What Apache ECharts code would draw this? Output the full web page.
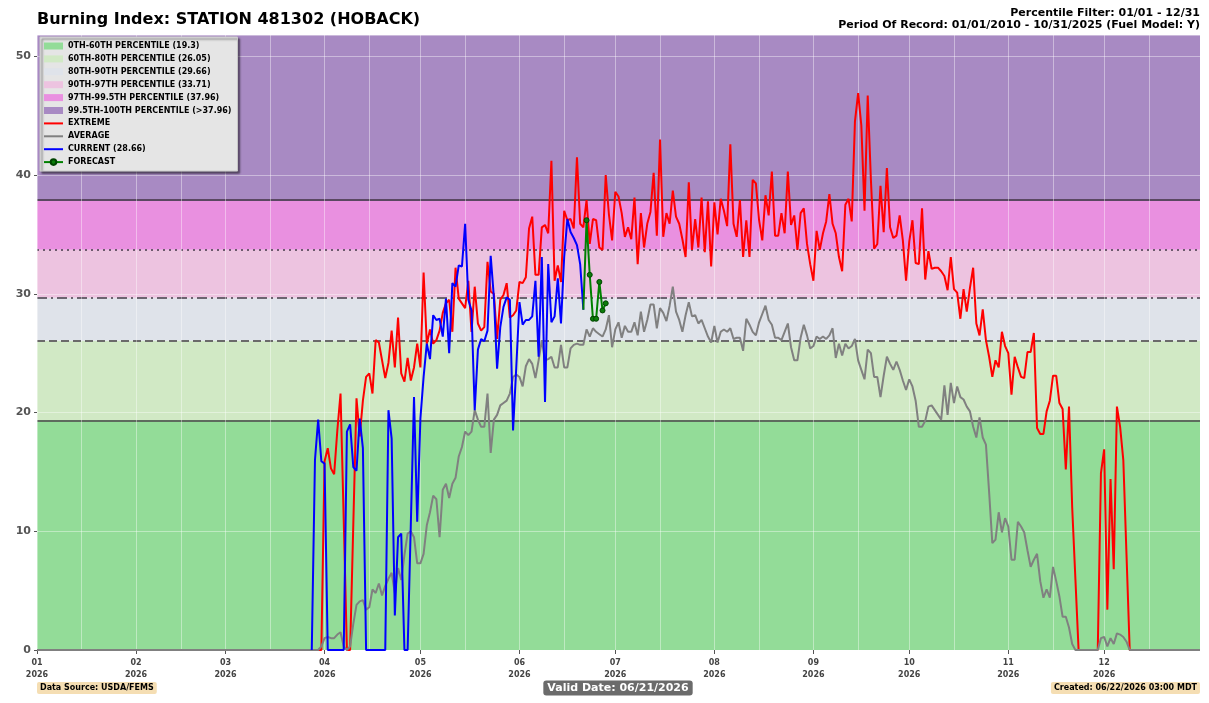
<!DOCTYPE html>
<html><head><meta charset="utf-8">
<script src="https://cdn.jsdelivr.net/npm/echarts@6.0.0/dist/echarts.min.js"></script>
<style>html,body{margin:0;padding:0;background:#fff}#c{width:1209px;height:703px}</style>
</head><body><div id="c"></div>
<script>
const YEAR = 2026;
const titleText = 'Burning Index: STATION 481302 (HOBACK)';
const subtitleLines = ['Percentile Filter: 01/01 - 12/31', 'Period Of Record: 01/01/2010 - 10/31/2025 (Fuel Model: Y)'];
const footerSource = 'Data Source: USDA/FEMS';
const footerValid = 'Valid Date: 06/21/2026';
const footerCreated = 'Created: 06/22/2026 03:00 MDT';

// Percentile bands (upper bounds) and names
const bandBounds = [0, 19.3, 26.05, 29.66, 33.71, 37.96, 51.8];
const bandNames = ['0TH-60TH PERCENTILE (19.3)', '60TH-80TH PERCENTILE (26.05)', '80TH-90TH PERCENTILE (29.66)',
  '90TH-97TH PERCENTILE (33.71)', '97TH-99.5TH PERCENTILE (37.96)', '99.5TH-100TH PERCENTILE (>37.96)'];
const lineNames = ['EXTREME', 'AVERAGE', 'CURRENT (28.66)', 'FORECAST'];

// Daily EXTREME values, Jan 1 .. Dec 31
const extremeValues = [
  0,0,0,0,0,0,0,0,0,0, 0,0,0,0,0,0,0,0,0,0, 0,0,0,0,0,0,0,0,0,0, 0,
  0,0,0,0,0,0,0,0,0,0, 0,0,0,0,0,0,0,0,0,0, 0,0,0,0,0,0,0,0,
  0,0,0,0,0,0,0,0,0,0, 0,0,0,0,0,0,0,0,0,0, 0,0,0,0,0,0,0,0,0,0, 0,
  15.9,17.0,15.3,14.8,18.5,21.6,11.0,0,0,10.6, 21.2,18.0,21.0,23.0,23.3,21.6,26.1,25.9,24.4,22.9, 24.2,26.9,23.8,28.0,23.3,22.6,24.6,22.7,23.8,25.8,
  23.8,31.8,25.8,27.0,25.8,26.1,26.9,28.4,29.2,29.5, 26.8,32.2,29.6,29.2,28.8,31.1,26.8,30.6,27.5,26.9, 27.2,32.7,30.2,30.0,26.2,29.5,29.9,30.9,28.0,28.2, 28.6,
  31.0,30.9,31.4,35.5,36.5,31.6,31.6,35.6,35.8,35.1, 41.2,31.1,32.4,31.0,37.0,36.2,36.3,35.5,41.5,35.9, 35.6,37.9,34.2,36.3,36.2,33.9,33.7,40.0,36.7,34.5,
  38.6,38.2,36.8,34.8,35.6,34.6,38.1,32.5,36.8,33.9, 35.9,36.9,40.2,34.9,43.0,34.8,36.8,35.9,38.7,36.5, 35.9,34.6,33.1,39.4,33.7,36.3,33.9,38.1,33.5,37.8, 32.3,
  37.7,35.0,38.0,37.0,35.7,42.6,35.9,34.8,37.9,33.1, 36.2,33.1,39.6,39.3,36.2,34.5,38.3,36.6,40.3,34.9, 34.9,36.8,35.1,40.3,35.8,36.6,33.7,36.8,37.2,34.2, 32.5,
  31.1,35.3,33.7,35.1,36.1,38.4,35.9,35.1,33.1,31.9, 37.5,38.0,36.1,44.5,46.9,44.2,37.0,46.7,39.6,33.8, 34.2,39.1,35.2,40.6,35.6,34.7,34.9,36.6,34.5,31.1,
  34.4,36.2,32.6,32.5,37.2,31.2,33.6,32.1,32.2,32.2, 31.9,31.5,30.3,33.1,30.4,30.1,27.9,30.4,28.5,30.5, 32.2,27.5,26.5,28.7,26.1,24.7,23.0,24.4,23.8,26.8, 25.6,
  25.0,21.5,24.7,23.8,23.0,22.9,25.1,25.1,26.7,18.7, 18.2,18.2,20.1,21.0,23.1,23.1,20.8,20.3,15.2,20.5, 12.0,6.0,0,0,0,0,0,0,0,14.9,
  16.9,3.4,14.4,6.8,20.5,18.8,16.0,8.0,0,0, 0,0,0,0,0,0,0,0,0,0, 0,0,0,0,0,0,0,0,0,0, 0
];

// Daily AVERAGE values, Jan 1 .. Dec 31
const averageValues = [
  0,0,0,0,0,0,0,0,0,0, 0,0,0,0,0,0,0,0,0,0, 0,0,0,0,0,0,0,0,0,0, 0,
  0,0,0,0,0,0,0,0,0,0, 0,0,0,0,0,0,0,0,0,0, 0,0,0,0,0,0,0,0,
  0,0,0,0,0,0,0,0,0,0, 0,0,0,0,0,0,0,0,0,0, 0,0,0,0,0,0,0,0,0,0, 0.3,
  1.0,1.1,1.0,1.0,1.3,1.5,0.3,0,0.3,2.2, 3.8,4.1,4.2,3.4,3.6,5.1,4.8,5.6,4.6,5.4, 6.0,6.5,4.8,6.9,5.9,8.0,9.8,10.0,9.5,7.3,
  7.3,8.1,10.5,11.6,13.0,12.7,9.5,13.5,14.0,12.8, 14.0,14.5,16.3,17.1,18.4,18.1,18.4,20.2,19.4,18.8, 18.8,21.6,16.6,19.4,19.8,20.6,20.8,21.0,21.6,23.0, 23.2,
  23.0,22.2,23.9,24.5,24.1,22.9,24.4,26.1,24.4,24.5, 24.7,23.8,23.8,25.7,23.8,23.8,25.4,25.7,25.8,25.7, 25.7,27.0,26.4,27.1,26.8,26.6,26.4,27.0,28.2,25.5,
  27.0,27.6,26.3,27.3,26.8,26.8,27.6,26.5,28.5,26.8, 27.8,29.1,29.1,27.1,28.8,28.4,27.7,29.0,30.6,28.5, 27.8,26.8,28.2,29.3,28.1,28.2,27.5,27.8,27.1,26.4, 25.9,
  27.3,25.9,26.8,27.0,26.8,27.1,26.2,26.3,26.3,25.2, 27.9,27.4,26.8,26.5,27.6,28.3,29.0,27.8,27.4,26.3, 26.3,26.1,26.8,27.5,25.5,24.4,24.4,26.3,27.4,26.5, 25.4,
  25.6,26.4,26.2,26.4,26.2,26.5,27.1,24.6,25.8,24.8, 25.8,25.4,25.6,26.2,24.4,23.6,22.8,25.3,25.0,23.0, 23.0,21.3,23.1,24.7,24.1,23.6,24.3,23.6,22.7,21.9,
  22.8,22.2,21.0,18.8,18.8,19.3,20.5,20.6,20.2,19.8, 19.4,22.3,19.8,22.5,20.8,22.2,21.3,21.1,20.5,20.1, 18.8,17.9,19.6,17.9,17.3,13.3,9.0,9.3,11.6,9.9, 11.1,
  10.4,7.6,7.6,10.8,10.4,9.9,8.4,7.0,7.6,8.1, 5.8,4.4,5.1,4.4,7.0,5.8,4.5,2.8,2.8,1.9, 0.5,0,0,0,0,0,0,0,0,1.0,
  1.1,0.3,1.0,0.5,1.4,1.3,1.1,0.7,0,0, 0,0,0,0,0,0,0,0,0,0, 0,0,0,0,0,0,0,0,0,0, 0
];

// CURRENT season values, starting 03/28
const currentStart = '03/28';
const currentValues = [
  0,16.0,19.4,15.9,
  15.7,0,0,0,0,0,0,18.4,19.0,15.4, 15.1,19.5,17.0,0,0,0,0,0,0,0, 20.2,17.8,2.9,9.5,9.8,0,0,10.6,21.3,10.8,
  19.5,23.0,25.8,24.5,28.2,27.8,27.9,26.4,29.6,25.0, 30.9,30.6,32.4,32.3,35.9,29.5,28.6,20.2,25.3,26.2, 26.0,26.9,33.2,29.7,23.7,27.2,28.9,29.7,29.5,18.5, 23.8,
  29.3,27.4,27.8,27.8,28.1,31.1,24.7,33.1,20.9,32.5, 27.6,28.1,31.3,27.5,33.1,36.3,35.2,34.7,34.1,32.5, 28.66
];

// FORECAST values, starting 06/21 (first point = current)
const forecastStart = '06/21';
const forecastValues = [28.66, 36.2, 31.6, 27.9, 27.9, 31.0, 28.6, 29.2];

// ---- build categories (one per day) ----
const categories = [];
for (let d = new Date(Date.UTC(YEAR, 0, 1)); d.getUTCFullYear() === YEAR; d.setUTCDate(d.getUTCDate() + 1)) {
  const mm = String(d.getUTCMonth() + 1).padStart(2, '0');
  const dd = String(d.getUTCDate()).padStart(2, '0');
  categories.push(mm + '/' + dd);
}
function placeFrom(startCat, vals) {
  const s = categories.indexOf(startCat);
  return categories.map((c, i) => (i >= s && i - s < vals.length) ? vals[i - s] : null);
}
const currentSeries = placeFrom(currentStart, currentValues);
const forecastSeries = placeFrom(forecastStart, forecastValues).map((v, i) =>
  (categories[i] === forecastStart) ? { value: v, symbol: 'none' } : v);

// ---- styles ----
const bandColors = ['#93dc98', '#d1e9c5', '#dfe3ea', '#edc3e0', '#e990e0', '#a88ac3'];
const boundaryStyles = [
  { type: 'solid', color: '#5e6b5e' },
  { type: 'dashed', color: '#6a6a6a' },
  { type: [10, 4, 2, 4], color: '#6c6470' },
  { type: [2, 4], color: '#6e5a6e' },
  { type: 'solid', color: '#5a4862' }
];
const FONT = 'DejaVu Sans';

const bandSeries = {
  name: '__bands', type: 'line', data: categories.map(() => null), silent: true, z: 0,
  symbol: 'none', lineStyle: { opacity: 0 },
  markArea: {
    silent: true, z: -1,
    data: bandColors.map((c, i) => [
      { yAxis: bandBounds[i], itemStyle: { color: c } },
      { yAxis: bandBounds[i + 1] }
    ])
  },
  markLine: {
    silent: true, symbol: 'none', z: -0.5, label: { show: false },
    data: boundaryStyles.map((s, i) => ({ yAxis: bandBounds[i + 1], lineStyle: { type: s.type, color: s.color, width: 2 } }))
  }
};
const legendBandSeries = bandNames.map((n, i) => ({
  name: n, type: 'line', data: [], itemStyle: { color: bandColors[i] }, lineStyle: { color: bandColors[i] }
}));

const chart = echarts.init(document.getElementById('c'), null, { renderer: 'canvas' });
chart.setOption({
  animation: false,
  backgroundColor: '#ffffff',
  title: {
    text: titleText, left: 37, top: 12, padding: 0,
    textStyle: { fontFamily: FONT, fontSize: 16, fontWeight: 'bold', color: '#000' }
  },
  grid: { left: 37, right: 9, top: 35, bottom: 53, containLabel: false },
  legend: {
    orient: 'vertical', left: 40, top: 37, padding: [5, 6, 5, 3],
    itemWidth: 19, itemHeight: 7, itemGap: 4.9,
    backgroundColor: '#e5e5e5', borderColor: '#c8c8c8', borderWidth: 1,
    shadowColor: 'rgba(0,0,0,0.55)', shadowBlur: 2, shadowOffsetX: 2, shadowOffsetY: 2,
    textStyle: { fontFamily: FONT, fontSize: 8, fontWeight: 'bold', color: '#000' },
    data: bandNames.map(n => ({ name: n, icon: 'rect' }))
      .concat(lineNames.slice(0, 3).map(n => ({ name: n, itemStyle: { opacity: 0 } })))
      .concat([{ name: lineNames[3] }])
  },
  xAxis: {
    type: 'category', data: categories, boundaryGap: false,
    axisLine: { show: false },
    axisTick: { show: true, length: 4, interval: (i, v) => v.endsWith('/01'), lineStyle: { color: '#555' } },
    axisLabel: {
      interval: (i, v) => v.endsWith('/01'),
      formatter: v => v.slice(0, 2) + '\n' + YEAR,
      fontFamily: FONT, fontSize: 8, fontWeight: 'bold', color: '#444', lineHeight: 12, margin: 7
    },
    splitLine: {
      show: true, interval: (i, v) => v.endsWith('/01') || v.endsWith('/15'),
      lineStyle: { color: 'rgba(255,255,255,0.4)', width: 1 }
    }
  },
  yAxis: {
    type: 'value', min: 0, max: bandBounds[bandBounds.length - 1], interval: 10,
    axisLine: { show: false },
    axisTick: { show: true, length: 3, lineStyle: { color: '#555' } },
    axisLabel: { fontFamily: FONT, fontSize: 11, fontWeight: 'bold', color: '#555', margin: 6, showMaxLabel: false },
    splitLine: { show: true, lineStyle: { color: 'rgba(255,255,255,0.4)', width: 1 } }
  },
  series: [bandSeries].concat(legendBandSeries).concat([
    { name: lineNames[0], type: 'line', data: extremeValues, symbol: 'none', z: 3,
      itemStyle: { color: '#ff0000' }, lineStyle: { color: '#ff0000', width: 2 } },
    { name: lineNames[1], type: 'line', data: averageValues, symbol: 'none', z: 4,
      itemStyle: { color: '#808080' }, lineStyle: { color: '#808080', width: 2 } },
    { name: lineNames[2], type: 'line', data: currentSeries, symbol: 'none', z: 5,
      itemStyle: { color: '#0000ff' }, lineStyle: { color: '#0000ff', width: 2 } },
    { name: lineNames[3], type: 'line', data: forecastSeries, symbol: 'circle', symbolSize: 5,
      showSymbol: true, showAllSymbol: true, z: 6,
      itemStyle: { color: '#0b7d0b', borderColor: '#004400', borderWidth: 1 },
      lineStyle: { color: '#008000', width: 2 } }
  ]),
  graphic: [
    { type: 'text', right: 9, top: 8, style: { text: subtitleLines[0], textAlign: 'right', font: 'bold 11px ' + FONT, fill: '#000' } },
    { type: 'text', right: 9, top: 20, style: { text: subtitleLines[1], textAlign: 'right', font: 'bold 11px ' + FONT, fill: '#000' } },
    { type: 'text', left: 37, top: 682, style: { text: footerSource, font: 'bold 8px ' + FONT, fill: '#000',
        backgroundColor: '#f5deb3', padding: [2, 3, 2, 3], borderRadius: 2 } },
    { type: 'text', x: 618, y: 688, style: { text: footerValid, font: 'bold 11px ' + FONT, fill: '#fff',
        textAlign: 'center', textVerticalAlign: 'middle',
        backgroundColor: '#6b6b6b', padding: [2, 4, 2, 4], borderRadius: 3 } },
    { type: 'text', right: 9, top: 682, style: { text: footerCreated, font: 'bold 8px ' + FONT, fill: '#000',
        backgroundColor: '#f5deb3', padding: [2, 3, 2, 3], borderRadius: 2 } }
  ]
});
</script></body></html>
